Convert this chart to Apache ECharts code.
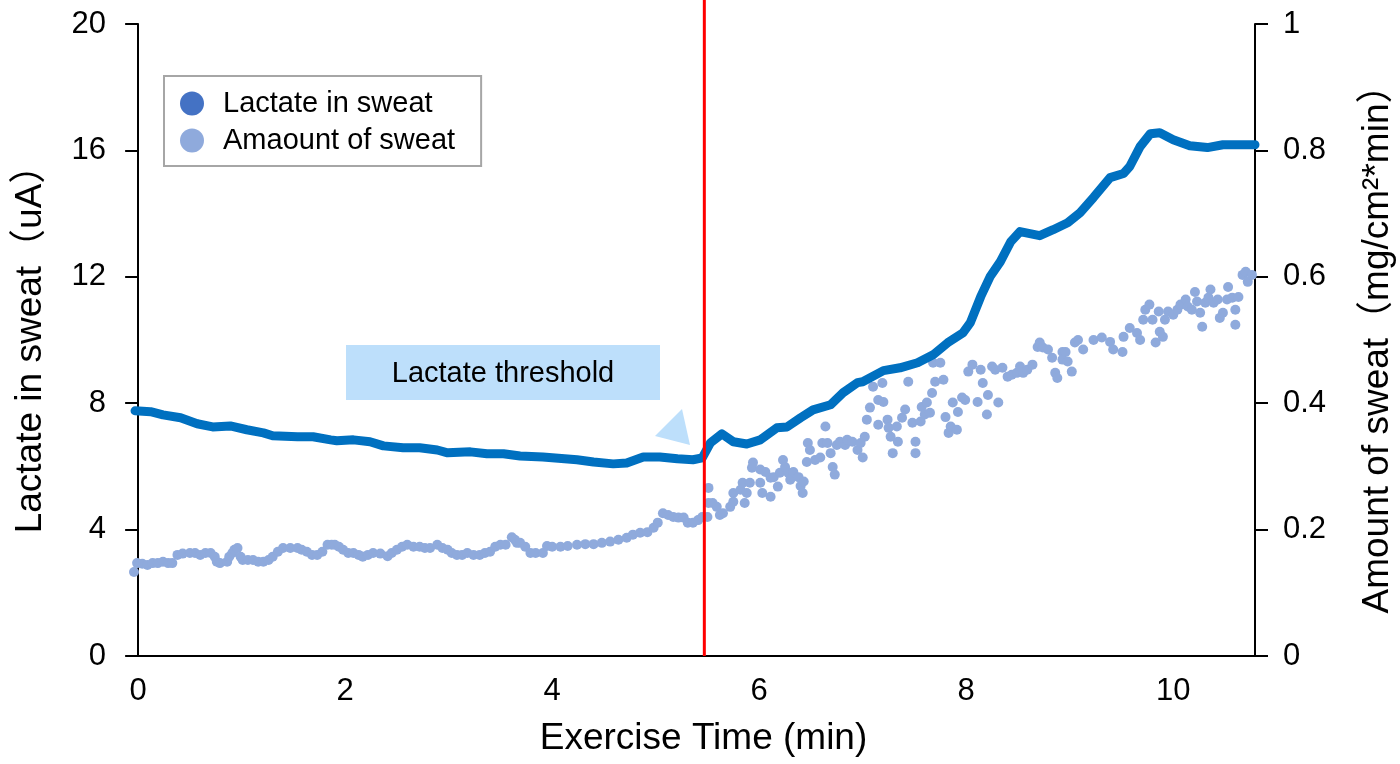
<!DOCTYPE html>
<html>
<head>
<meta charset="utf-8">
<script src="https://cdn.jsdelivr.net/npm/echarts@6/dist/echarts.min.js"></script>
<style>
  html, body { margin: 0; padding: 0; background: #fff; }
  #main { width: 1400px; height: 764px; }
</style>
</head>
<body>
<div id="main"></div>
<script>
// lactate signal (left axis, uA)
var lacTime = [-0.03, 0.12, 0.24, 0.41, 0.57, 0.72, 0.89, 1.05, 1.21, 1.30, 1.54, 1.69, 1.86, 1.92, 2.08, 2.24, 2.37, 2.56, 2.72, 2.89,
  2.99, 3.21, 3.37, 3.53, 3.69, 3.91, 4.24, 4.40, 4.59, 4.72, 4.88, 5.04, 5.21, 5.36, 5.45, 5.53, 5.64, 5.75, 5.88, 6.01,
  6.17, 6.27, 6.40, 6.52, 6.69, 6.81, 6.95, 7.00, 7.20, 7.36, 7.53, 7.68, 7.82, 7.97, 8.04, 8.14, 8.23, 8.33, 8.43, 8.52,
  8.71, 8.84, 8.98, 9.10, 9.23, 9.39, 9.52, 9.58, 9.68, 9.78, 9.87, 10.00, 10.16, 10.33, 10.48, 10.65, 10.79];
var lacValue = [7.76, 7.73, 7.63, 7.54, 7.35, 7.25, 7.28, 7.16, 7.06, 6.97, 6.94, 6.94, 6.84, 6.81, 6.84, 6.78, 6.65, 6.59, 6.59, 6.52,
  6.43, 6.46, 6.40, 6.40, 6.33, 6.30, 6.21, 6.14, 6.08, 6.11, 6.30, 6.30, 6.24, 6.21, 6.27, 6.75, 7.03, 6.78, 6.71, 6.84,
  7.22, 7.25, 7.54, 7.79, 7.95, 8.33, 8.65, 8.68, 9.03, 9.12, 9.28, 9.53, 9.91, 10.23, 10.55, 11.37, 12.00, 12.48, 13.11, 13.43,
  13.30, 13.49, 13.71, 14.03, 14.51, 15.14, 15.27, 15.49, 16.12, 16.53, 16.56, 16.34, 16.15, 16.09, 16.18, 16.18, 16.18];

// amount of sweat (right axis, mg/cm2*min)
var sweatTime = [-0.04, -0.01, 0.04, 0.09, 0.14, 0.19, 0.24, 0.29, 0.33, 0.38, 0.43, 0.50, 0.55, 0.60, 0.65, 0.70, 0.74, 0.76, 0.79, 0.86,
  0.88, 0.91, 0.93, 0.96, 0.99, 1.01, 1.06, 1.11, 1.16, 1.21, 1.26, 1.30, 1.35, 1.40, 1.47, 1.54, 1.58, 1.63, 1.68, 1.73,
  1.78, 1.83, 1.87, 1.90, 1.94, 1.98, 2.03, 2.08, 2.13, 2.17, 2.22, 2.27, 2.34, 2.41, 2.45, 2.50, 2.55, 2.60, 2.66, 2.72,
  2.77, 2.82, 2.89, 2.94, 2.99, 3.03, 3.08, 3.13, 3.18, 3.24, 3.30, 3.35, 3.40, 3.45, 3.50, 3.55, 3.61, 3.64, 3.66, 3.69,
  3.74, 3.79, 3.84, 3.91, 3.95, 4.00, 4.08, 4.15, 4.24, 4.32, 4.40, 4.48, 4.56, 4.64, 4.72, 4.78, 4.85, 4.92, 4.98, 5.02,
  5.07, 5.12, 5.17, 5.22, 5.27, 5.31, 5.36, 5.41, 5.45, 5.50, 5.51, 5.51, 5.55, 5.59, 5.62, 5.65, 5.72, 5.75, 5.75, 5.82,
  5.84, 5.86, 5.88, 5.91, 5.93, 5.94, 6.01, 6.01, 6.03, 6.06, 6.11, 6.11, 6.14, 6.18, 6.20, 6.23, 6.25, 6.28, 6.30, 6.33,
  6.38, 6.40, 6.42, 6.43, 6.46, 6.47, 6.49, 6.54, 6.59, 6.61, 6.64, 6.66, 6.69, 6.71, 6.73, 6.75, 6.78, 6.83, 6.85, 6.90,
  6.95, 6.98, 7.00, 7.02, 7.04, 7.07, 7.10, 7.15, 7.15, 7.19, 7.20, 7.24, 7.25, 7.27, 7.29, 7.33, 7.34, 7.38, 7.41, 7.44,
  7.48, 7.51, 7.51, 7.56, 7.57, 7.60, 7.62, 7.65, 7.67, 7.68, 7.70, 7.75, 7.78, 7.80, 7.83, 7.85, 7.87, 7.91, 7.92, 7.96,
  7.99, 8.02, 8.06, 8.11, 8.14, 8.16, 8.20, 8.21, 8.25, 8.28, 8.31, 8.35, 8.40, 8.44, 8.49, 8.52, 8.55, 8.59, 8.64, 8.69,
  8.71, 8.74, 8.79, 8.83, 8.86, 8.88, 8.93, 8.93, 8.96, 8.98, 9.02, 9.05, 9.08, 9.13, 9.23, 9.31, 9.39, 9.42, 9.51, 9.52,
  9.58, 9.65, 9.68, 9.71, 9.73, 9.77, 9.80, 9.83, 9.86, 9.87, 9.90, 9.92, 9.95, 10.00, 10.04, 10.07, 10.12, 10.14, 10.18, 10.21,
  10.23, 10.26, 10.28, 10.31, 10.34, 10.36, 10.39, 10.43, 10.45, 10.48, 10.52, 10.53, 10.57, 10.60, 10.60, 10.63, 10.67, 10.70, 10.72, 10.76];
var sweatValue = [0.133, 0.147, 0.146, 0.144, 0.147, 0.147, 0.149, 0.147, 0.147, 0.160, 0.162, 0.163, 0.163, 0.160, 0.163, 0.163, 0.157, 0.149, 0.147, 0.149,
  0.157, 0.163, 0.168, 0.171, 0.157, 0.152, 0.152, 0.152, 0.149, 0.149, 0.152, 0.157, 0.165, 0.171, 0.171, 0.171, 0.168, 0.165, 0.160, 0.160,
  0.165, 0.176, 0.176, 0.176, 0.173, 0.168, 0.163, 0.163, 0.160, 0.157, 0.160, 0.163, 0.162, 0.158, 0.163, 0.168, 0.173, 0.176, 0.173, 0.173,
  0.171, 0.171, 0.176, 0.171, 0.168, 0.163, 0.160, 0.160, 0.163, 0.160, 0.160, 0.163, 0.165, 0.173, 0.176, 0.176, 0.188, 0.184, 0.179, 0.179,
  0.173, 0.163, 0.163, 0.163, 0.174, 0.173, 0.173, 0.174, 0.176, 0.177, 0.177, 0.179, 0.181, 0.184, 0.187, 0.192, 0.195, 0.196, 0.203, 0.211,
  0.226, 0.223, 0.220, 0.219, 0.219, 0.211, 0.211, 0.215, 0.220, 0.220, 0.242, 0.266, 0.242, 0.236, 0.223, 0.226, 0.236, 0.258, 0.244, 0.263,
  0.274, 0.242, 0.258, 0.274, 0.298, 0.306, 0.295, 0.274, 0.258, 0.291, 0.252, 0.282, 0.283, 0.268, 0.290, 0.310, 0.299, 0.290, 0.279, 0.291,
  0.283, 0.269, 0.258, 0.276, 0.307, 0.337, 0.326, 0.310, 0.314, 0.337, 0.363, 0.337, 0.321, 0.299, 0.287, 0.334, 0.339, 0.334, 0.342, 0.339,
  0.326, 0.337, 0.314, 0.347, 0.374, 0.393, 0.426, 0.405, 0.366, 0.432, 0.402, 0.374, 0.361, 0.347, 0.321, 0.363, 0.339, 0.377, 0.390, 0.434,
  0.369, 0.339, 0.321, 0.371, 0.394, 0.382, 0.401, 0.385, 0.416, 0.464, 0.434, 0.464, 0.437, 0.378, 0.353, 0.363, 0.401, 0.358, 0.386, 0.409,
  0.405, 0.450, 0.461, 0.402, 0.453, 0.432, 0.382, 0.413, 0.458, 0.453, 0.401, 0.456, 0.442, 0.445, 0.448, 0.458, 0.448, 0.453, 0.461, 0.489,
  0.496, 0.488, 0.485, 0.472, 0.448, 0.440, 0.481, 0.469, 0.481, 0.466, 0.450, 0.496, 0.500, 0.485, 0.500, 0.504, 0.497, 0.485, 0.481, 0.505,
  0.519, 0.511, 0.500, 0.532, 0.548, 0.556, 0.532, 0.496, 0.545, 0.513, 0.505, 0.532, 0.545, 0.540, 0.548, 0.556, 0.564, 0.553, 0.548, 0.576,
  0.561, 0.543, 0.521, 0.559, 0.567, 0.580, 0.559, 0.564, 0.535, 0.543, 0.564, 0.584, 0.567, 0.548, 0.524, 0.568, 0.603, 0.608, 0.592, 0.603];

var xLabels = [0, 2, 4, 6, 8, 10];
var thresholdTime = 5.47;

var FONT = 'Liberation Sans, Arial, Noto Sans CJK JP, sans-serif';

var lacData = lacTime.map(function (t, i) { return [t, lacValue[i]]; });
var sweatData = sweatTime.map(function (t, i) { return [t, sweatValue[i]]; });

var chart = echarts.init(document.getElementById('main'));

var option = {
    backgroundColor: '#ffffff',
    animation: false,
    textStyle: {fontFamily: FONT, color: '#000'},
    grid: {left: 134, right: 145, top: 24, bottom: 108, containLabel: false, outerBoundsMode: 'none'},
    legend: {
        left: 164,
        top: 76,
        orient: 'vertical',
        padding: [13, 26, 11, 16],
        itemGap: 8,
        itemWidth: 24,
        itemHeight: 24,
        icon: 'circle',
        borderColor: '#A6A6A6',
        borderWidth: 2,
        textStyle: {fontSize: 29, color: '#000', fontFamily: FONT, padding: [0, 0, 0, 14]},
        data: ['Lactate in sweat', 'Amaount of sweat']
    },
    xAxis: {
        type: 'value',
        min: -0.04,
        max: 10.79,
        name: 'Exercise Time (min)',
        nameLocation: 'middle',
        nameGap: 64,
        nameTextStyle: {fontSize: 37, color: '#000', fontFamily: FONT, padding: [0, 0, 0, 18]},
        axisLine: {show: true, onZero: false, lineStyle: {color: '#000', width: 2}},
        axisTick: {show: false},
        splitLine: {show: false},
        axisLabel: {customValues: xLabels, fontSize: 31, color: '#000', margin: 20, fontFamily: FONT}
    },
    yAxis: [
        {
            type: 'value',
            min: 0,
            max: 20,
            interval: 4,
            name: 'Lactate in sweat（uA）',
            nameLocation: 'middle',
            nameGap: 85,
            nameTextStyle: {fontSize: 37, color: '#000', fontFamily: FONT},
            axisLine: {show: true, lineStyle: {color: '#000', width: 2}},
            axisTick: {show: true, length: 13, lineStyle: {color: '#000', width: 2}},
            splitLine: {show: false},
            axisLabel: {fontSize: 31, color: '#000', margin: 28, fontFamily: FONT}
        },
        {
            type: 'value',
            min: 0,
            max: 1,
            interval: 0.2,
            position: 'right',
            name: 'Amount of sweat（mg/cm²*min）',
            nameLocation: 'middle',
            nameGap: 104,
            nameTextStyle: {fontSize: 37, color: '#000', fontFamily: FONT},
            axisLine: {show: true, lineStyle: {color: '#000', width: 2}},
            axisTick: {show: true, length: 13, lineStyle: {color: '#000', width: 2}},
            splitLine: {show: false},
            axisLabel: {fontSize: 31, color: '#000', margin: 28, fontFamily: FONT}
        }
    ],
    series: [
        {
            name: 'Amaount of sweat',
            type: 'scatter',
            yAxisIndex: 1,
            symbolSize: 10,
            itemStyle: {color: '#8FAADC', opacity: 1},
            data: sweatData,
            z: 2
        },
        {
            name: 'Lactate in sweat',
            type: 'line',
            yAxisIndex: 0,
            showSymbol: false,
            symbol: 'circle',
            itemStyle: {color: '#4472C4'},
            lineStyle: {color: '#0070C0', width: 9, cap: 'round', join: 'round'},
            data: lacData,
            z: 3
        }
    ]
};

chart.setOption(option);

// red threshold line and the annotation box
var redX = chart.convertToPixel({xAxisIndex: 0}, thresholdTime);
var bottomY = chart.convertToPixel({yAxisIndex: 0}, 0);

chart.setOption({
    graphic: [
        {
            type: 'line',
            shape: {x1: redX, y1: 0, x2: redX, y2: bottomY},
            style: {stroke: '#FF0000', lineWidth: 3},
            z: 10
        },
        {
            type: 'rect',
            shape: {x: 346, y: 345, width: 314, height: 55},
            style: {fill: '#BDDFFB'},
            z: 10
        },
        {
            type: 'text',
            x: 503,
            y: 374,
            style: {text: 'Lactate threshold', fill: '#000', font: '29px ' + FONT, align: 'center', verticalAlign: 'middle'},
            z: 11
        },
        {
            type: 'polygon',
            shape: {points: [[655, 436], [682, 409], [690, 445]]},
            style: {fill: '#BDDFFB'},
            z: 10
        }
    ]
});
</script>
</body>
</html>
